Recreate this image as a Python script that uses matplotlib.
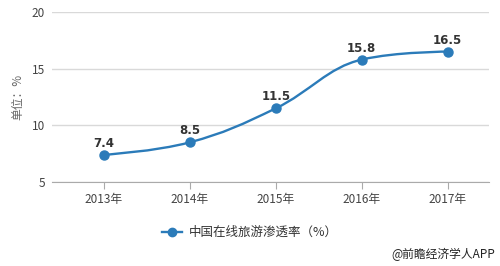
import matplotlib
matplotlib.use("Agg")
import matplotlib.pyplot as plt
from matplotlib.path import Path
from matplotlib.patches import PathPatch
from matplotlib.lines import Line2D

plt.rcParams['font.family'] = ['Noto Sans CJK SC', 'DejaVu Sans']

years = ['2013年', '2014年', '2015年', '2016年', '2017年']
rate = [7.4, 8.5, 11.5, 15.8, 16.5]
y_ticks = [5, 10, 15, 20]
series_name = '中国在线旅游渗透率（%）'

line_color = '#2b7bb9'
text_color = '#333333'


def spline_path(xs, ys, smoothing=1.5):
    # highcharts style spline control points
    denom = smoothing + 1
    verts = [(xs[0], ys[0])]
    codes = [Path.MOVETO]
    ctrl = []
    n = len(xs)
    for i in range(n):
        if 0 < i < n - 1:
            lx = (smoothing * xs[i] + xs[i - 1]) / denom
            ly = (smoothing * ys[i] + ys[i - 1]) / denom
            rx = (smoothing * xs[i] + xs[i + 1]) / denom
            ry = (smoothing * ys[i] + ys[i + 1]) / denom
            corr = ((ry - ly) * (rx - xs[i])) / (rx - lx) + ys[i] - ry
            ly += corr
            ry += corr
            if ly > max(ys[i - 1], ys[i]):
                ly = max(ys[i - 1], ys[i]); ry = 2 * ys[i] - ly
            elif ly < min(ys[i - 1], ys[i]):
                ly = min(ys[i - 1], ys[i]); ry = 2 * ys[i] - ly
            if ry > max(ys[i + 1], ys[i]):
                ry = max(ys[i + 1], ys[i]); ly = 2 * ys[i] - ry
            elif ry < min(ys[i + 1], ys[i]):
                ry = min(ys[i + 1], ys[i]); ly = 2 * ys[i] - ry
            ctrl.append(((lx, ly), (rx, ry)))
        else:
            ctrl.append(((xs[i], ys[i]), (xs[i], ys[i])))
    for i in range(1, n):
        verts += [ctrl[i - 1][1], ctrl[i][0], (xs[i], ys[i])]
        codes += [Path.CURVE4] * 3
    return Path(verts, codes)


fig = plt.figure(figsize=(5, 2.66), dpi=100)
ax = fig.add_axes([0.104, 0.316, 0.874, 0.639])

xs = list(range(len(years)))
ax.add_patch(PathPatch(spline_path(xs, rate), fill=False, edgecolor=line_color, lw=1.7, zorder=3))
ax.plot(xs, rate, 'o', color=line_color, ms=6.5, zorder=4)
for x, v in zip(xs, rate):
    ax.annotate(f'{v}', (x, v), xytext=(0, 3.5), textcoords='offset points', ha='center', va='bottom',
                fontsize=8.5, fontweight='bold', color=text_color, family=['DejaVu Sans'])

ax.set_xlim(-0.605, 4.48)
ax.set_ylim(5, 20)
ax.set_xticks(xs)
ax.set_xticklabels(years)
ax.set_yticks(y_ticks)
ax.tick_params(axis='x', length=5, color='#aaaaaa', labelsize=8.5, labelcolor='#444444', pad=3)
ax.tick_params(axis='y', length=0, labelsize=8.5, labelcolor='#444444', pad=5)
ax.grid(axis='y', color='#d9d9d9', lw=1)
ax.set_axisbelow(True)
for s in ['top', 'right', 'left']:
    ax.spines[s].set_visible(False)
ax.spines['bottom'].set_color('#aaaaaa')
ax.set_ylabel('单位：%', fontsize=8.5, color='#666666', labelpad=5)

handle = Line2D([], [], color=line_color, lw=1.7, marker='o', ms=6)
fig.legend([handle], [series_name], loc='center', bbox_to_anchor=(0.5, 0.125), frameon=False,
           fontsize=9, handlelength=1.6, handletextpad=0.5, labelcolor=text_color)

fig.text(0.99, 0.045, '@前瞻经济学人APP', ha='right', va='center', fontsize=8.5, color='#222222')

fig.savefig('out.png', dpi=100)
